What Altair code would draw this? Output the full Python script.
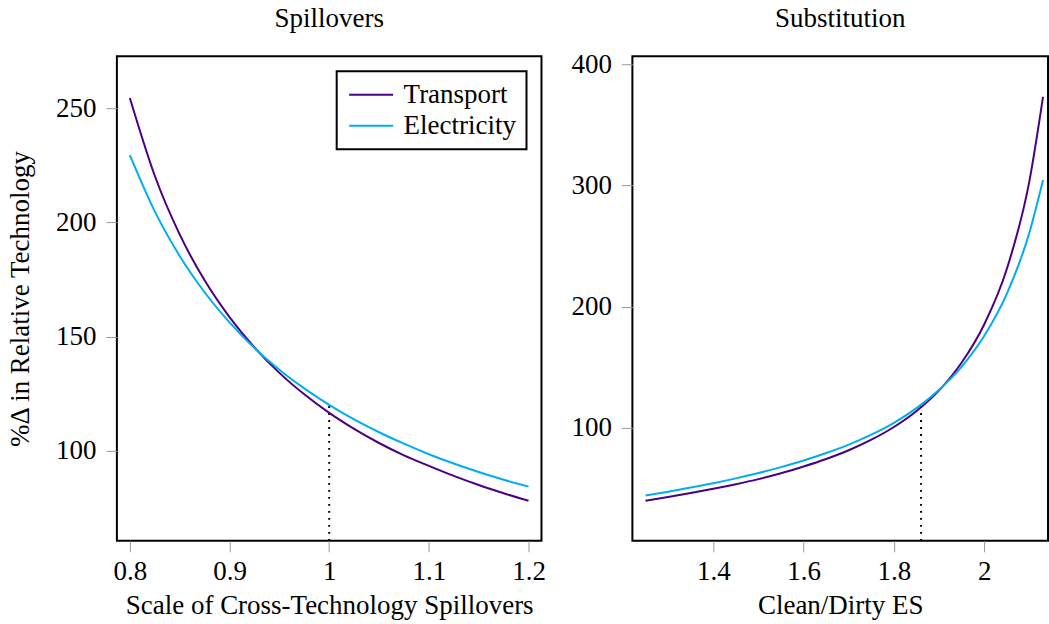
import altair as alt
import pandas as pd

SERIES = ["Transport", "Electricity"]
COLORS = ["#4B0082", "#00AEEF"]
FONT = "Liberation Serif"
FS = 27

# Panel 1: response to the scale of cross-technology spillovers
spill_x = [0.800, 0.825, 0.850, 0.875, 0.900, 0.925, 0.950, 0.975, 1.000,
           1.025, 1.050, 1.075, 1.100, 1.125, 1.150, 1.175, 1.200]
spill_transport = [254.4, 220.4, 194.7, 174.6, 158.5, 145.2, 134.1, 124.7, 116.6,
                   109.6, 103.4, 98.0, 93.4, 89.0, 85.0, 81.4, 78.1]
spill_electricity = [229.4, 204.8, 185.3, 169.4, 156.2, 145.0, 135.5, 127.3, 120.1,
                     113.7, 108.1, 103.1, 98.5, 94.4, 90.7, 87.3, 84.3]
spill_base_x, spill_base_y = 1.0, 120.1
spill_xdomain = [0.787, 1.213]
spill_ydomain = [60.6, 272.7]
spill_xticks = [0.8, 0.9, 1.0, 1.1, 1.2]
spill_yticks = [100, 150, 200, 250]

# Panel 2: response to the clean/dirty elasticity of substitution
es_x = [1.25, 1.30, 1.35, 1.40, 1.45, 1.50, 1.55, 1.60, 1.65, 1.70,
        1.75, 1.80, 1.85, 1.90, 1.95, 2.00, 2.05, 2.10, 2.13]
es_transport = [39.8, 42.8, 46.1, 49.6, 53.4, 57.6, 62.4, 68.0, 74.2, 81.4,
                90.1, 100.6, 113.8, 130.8, 153.8, 185.4, 231.2, 303.9, 373.1]
es_electricity = [44.0, 47.2, 50.6, 54.2, 58.2, 62.6, 67.5, 72.9, 79.1, 86.1,
                  94.3, 104.1, 116.2, 131.4, 150.5, 175.9, 210.7, 261.3, 304.5]
es_base_x, es_base_y = 1.86, 118.5
es_xdomain = [1.221, 2.141]
es_ydomain = [6.7, 406.6]
es_xticks = [1.4, 1.6, 1.8, 2.0]
es_yticks = [100, 200, 300, 400]


def long_frame(xs, transport, electricity):
    rows = []
    for x, t, e in zip(xs, transport, electricity):
        rows.append({"x": x, "y": t, "series": "Transport"})
        rows.append({"x": x, "y": e, "series": "Electricity"})
    return pd.DataFrame(rows)


def panel(title, title_offset, xs, transport, electricity, base_x, base_y,
          xdomain, ydomain, xticks, yticks, xtitle, ytitle, width, show_legend):
    xscale = alt.Scale(domain=xdomain, nice=False, zero=False)
    yscale = alt.Scale(domain=ydomain, nice=False, zero=False)
    xaxis = alt.Axis(values=xticks, format="~g", title=xtitle)
    if ytitle:
        yaxis = alt.Axis(values=yticks, format="d", title=ytitle)
    else:
        yaxis = alt.Axis(values=yticks, format="d", title=None)

    base = pd.DataFrame({"x": [base_x], "y": [ydomain[0]], "y2": [base_y]})
    rule = alt.Chart(base).mark_rule(
        color="black", strokeWidth=2, strokeDash=[1.8, 5.2]
    ).encode(
        x=alt.X("x:Q", scale=xscale, axis=xaxis),
        y=alt.Y("y:Q", scale=yscale, axis=yaxis),
        y2="y2:Q",
    )

    legend = alt.Legend(title=None, orient="top-right") if show_legend else None
    lines = alt.Chart(long_frame(xs, transport, electricity)).mark_line(
        strokeWidth=2, interpolate="monotone", clip=True
    ).encode(
        x=alt.X("x:Q", scale=xscale, axis=xaxis),
        y=alt.Y("y:Q", scale=yscale, axis=yaxis),
        color=alt.Color("series:N", scale=alt.Scale(domain=SERIES, range=COLORS),
                        sort=SERIES, legend=legend),
        detail="series:N",
    )
    return alt.layer(rule, lines).properties(
        width=width, height=485,
        title=alt.TitleParams(title, fontSize=FS, font=FONT, fontWeight="normal",
                              color="black", anchor="middle", frame="group",
                              offset=title_offset),
    )


left = panel("Spillovers", 23, spill_x, spill_transport, spill_electricity,
             spill_base_x, spill_base_y, spill_xdomain, spill_ydomain,
             spill_xticks, spill_yticks, "Scale of Cross-Technology Spillovers",
             "%\u0394 in Relative Technology", 425, True)
right = panel("Substitution", 17, es_x, es_transport, es_electricity,
              es_base_x, es_base_y, es_xdomain, es_ydomain,
              es_xticks, es_yticks, "Clean/Dirty ES", None, 416, False)

chart = alt.hconcat(left, right, spacing=91, bounds="flush").resolve_scale(
    color="independent"
).resolve_legend(color="independent").properties(
    padding={"left": 5, "top": 4, "right": 0, "bottom": 0}
).configure(
    font=FONT,
).configure_view(
    stroke="black", strokeWidth=2,
).configure_axis(
    domain=False, grid=False,
    labelFont=FONT, titleFont=FONT,
    labelFontSize=FS, titleFontSize=FS, titleFontWeight="normal",
    labelColor="black", titleColor="black",
    tickColor="#999999", tickWidth=1, tickSize=11,
    labelPadding=10,
).configure_axisX(
    labelPadding=7, titlePadding=8,
).configure_axisY(
    titlePadding=21,
).configure_legend(
    labelFont=FONT, labelFontSize=FS, labelColor="black",
    strokeColor="black", strokeWidth=2, fillColor="white",
    padding=10, offset=15, rowPadding=3, labelOffset=30,
    symbolType="M-1,0H3", symbolStrokeWidth=2, symbolSize=484,
)

chart.save("out.html", embed_options={"renderer": "svg", "actions": False})
